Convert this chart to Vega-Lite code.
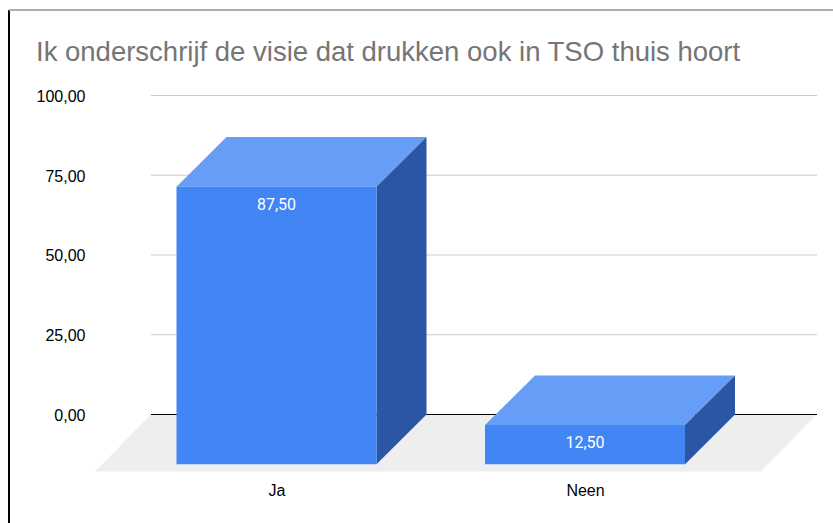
{
  "$schema": "https://vega.github.io/schema/vega-lite/v6.json",
  "width": 722,
  "height": 376,
  "autosize": {"type": "none"},
  "padding": {"left": 95, "top": 95.5, "right": 16, "bottom": 51.5},
  "background": "white",
  "view": {"stroke": null},
  "title": {
    "text": "Ik onderschrijf de visie dat drukken ook in TSO thuis hoort",
    "anchor": "start",
    "frame": "group",
    "dx": -59,
    "offset": 0,
    "dy": 57,
    "font": "Liberation Sans",
    "fontSize": 27.5,
    "fontWeight": "normal",
    "color": "#757575"
  },
  "datasets": {
    "bars": [
      {"answer": "Ja", "share": 87.5, "center": 0.5, "frontTop": 71.4},
      {"answer": "Neen", "share": 12.5, "center": 2.0425, "frontTop": -3.3}
    ],
    "ticks": [
      {"tick": 0}, {"tick": 25}, {"tick": 50}, {"tick": 75}, {"tick": 100}
    ],
    "faces": [
      {"face": "floor", "part": "floor", "pos": -0.4075, "low": -17.87, "high": -17.87},
      {"face": "floor", "part": "floor", "pos": -0.1275, "low": -17.87, "high": 0},
      {"face": "floor", "part": "floor", "pos": 2.92, "low": -17.87, "high": 0},
      {"face": "floor", "part": "floor", "pos": 3.2025, "low": 0, "high": 0}
    ],
    "solids": [
      {"face": "Ja top", "part": "top", "pos": 0, "low": 71.4, "high": 71.4},
      {"face": "Ja top", "part": "top", "pos": 0.25, "low": 71.4, "high": 87},
      {"face": "Ja top", "part": "top", "pos": 1, "low": 71.4, "high": 87},
      {"face": "Ja top", "part": "top", "pos": 1.25, "low": 87, "high": 87},
      {"face": "Ja side", "part": "side", "pos": 1, "low": -15.58, "high": 71.4},
      {"face": "Ja side", "part": "side", "pos": 1.25, "low": 0, "high": 87},
      {"face": "Ja front", "part": "front", "pos": 0, "low": -15.58, "high": 71.4},
      {"face": "Ja front", "part": "front", "pos": 1, "low": -15.58, "high": 71.4},
      {"face": "Neen top", "part": "top", "pos": 1.5425, "low": -3.3, "high": -3.3},
      {"face": "Neen top", "part": "top", "pos": 1.7925, "low": -3.3, "high": 12.2},
      {"face": "Neen top", "part": "top", "pos": 2.5425, "low": -3.3, "high": 12.2},
      {"face": "Neen top", "part": "top", "pos": 2.7925, "low": 12.2, "high": 12.2},
      {"face": "Neen side", "part": "side", "pos": 2.5425, "low": -15.58, "high": -3.3},
      {"face": "Neen side", "part": "side", "pos": 2.7925, "low": 0, "high": 12.2},
      {"face": "Neen front", "part": "front", "pos": 1.5425, "low": -15.58, "high": -3.3},
      {"face": "Neen front", "part": "front", "pos": 2.5425, "low": -15.58, "high": -3.3}
    ]
  },
  "data": {"name": "ticks"},
  "layer": [
    {
      "data": {"name": "faces"},
      "mark": {"type": "area", "color": "#eeeeee", "interpolate": "linear"},
      "encoding": {
        "x": {
          "field": "pos",
          "type": "quantitative",
          "scale": {"domain": [-0.4075, 3.2025], "nice": false, "zero": false},
          "axis": {
            "values": [0.5, 2.0425],
            "labelExpr": "datum.value < 1 ? 'Ja' : 'Neen'",
            "title": null,
            "grid": false,
            "domain": false,
            "ticks": false,
            "labelPadding": 11,
            "labelFont": "Liberation Sans",
            "labelFontSize": 16,
            "labelColor": "#000000",
            "labelFlush": false,
            "labelOverlap": false
          }
        },
        "y": {
          "field": "low",
          "type": "quantitative",
          "stack": null,
          "scale": {"domain": [-17.87, 100], "nice": false, "zero": false},
          "axis": {
            "values": [0, 25, 50, 75, 100],
            "labelExpr": "replace(format(datum.value, '.2f'), '.', ',')",
            "title": null,
            "grid": false,
            "domain": false,
            "ticks": false,
            "labelPadding": 10,
            "labelOffset": 1,
            "labelFont": "Liberation Sans",
            "labelFontSize": 16,
            "labelColor": "#000000",
            "labelFlush": false,
            "labelOverlap": false
          }
        },
        "y2": {"field": "high"}
      }
    },
    {
      "mark": {"type": "rule", "strokeWidth": 1},
      "encoding": {
        "x": {"datum": -0.1275, "type": "quantitative"},
        "x2": {"datum": 3.2025},
        "y": {"field": "tick", "type": "quantitative"},
        "color": {
          "condition": {"test": "datum.tick === 0", "value": "#000000"},
          "value": "#cccccc"
        }
      }
    },
    {
      "data": {"name": "solids"},
      "mark": {"type": "area", "interpolate": "linear"},
      "encoding": {
        "x": {"field": "pos", "type": "quantitative"},
        "y": {"field": "low", "type": "quantitative", "stack": null},
        "y2": {"field": "high"},
        "detail": {"field": "face"},
        "color": {
          "field": "part",
          "type": "nominal",
          "scale": {"domain": ["top", "side", "front"], "range": ["#669df6", "#2a56a3", "#4285f4"]},
          "legend": null
        }
      }
    },
    {
      "data": {"name": "bars"},
      "mark": {"type": "text", "font": "Roboto", "fontSize": 16, "color": "#ffffff", "dy": 18, "baseline": "middle", "align": "center"},
      "encoding": {
        "x": {"field": "center", "type": "quantitative"},
        "y": {"field": "frontTop", "type": "quantitative"},
        "text": {"field": "share", "type": "quantitative", "format": ".2f", "formatType": "number"}
      }
    },
    {
      "mark": {"type": "rule", "color": "#000000", "strokeWidth": 2},
      "encoding": {
        "x": {"datum": -0.8375, "type": "quantitative"},
        "y": {"datum": 126.8, "type": "quantitative"},
        "y2": {"datum": -34.5}
      }
    },
    {
      "mark": {"type": "rule", "color": "#aaaaaa", "strokeWidth": 1},
      "encoding": {
        "x": {"datum": -0.8375, "type": "quantitative"},
        "x2": {"datum": 3.2825},
        "y": {"datum": 126.8, "type": "quantitative"}
      }
    }
  ],
  "config": {
    "locale": {"number": {"decimal": ",", "thousands": ".", "grouping": [3], "currency": ["", ""]}}
  }
}
